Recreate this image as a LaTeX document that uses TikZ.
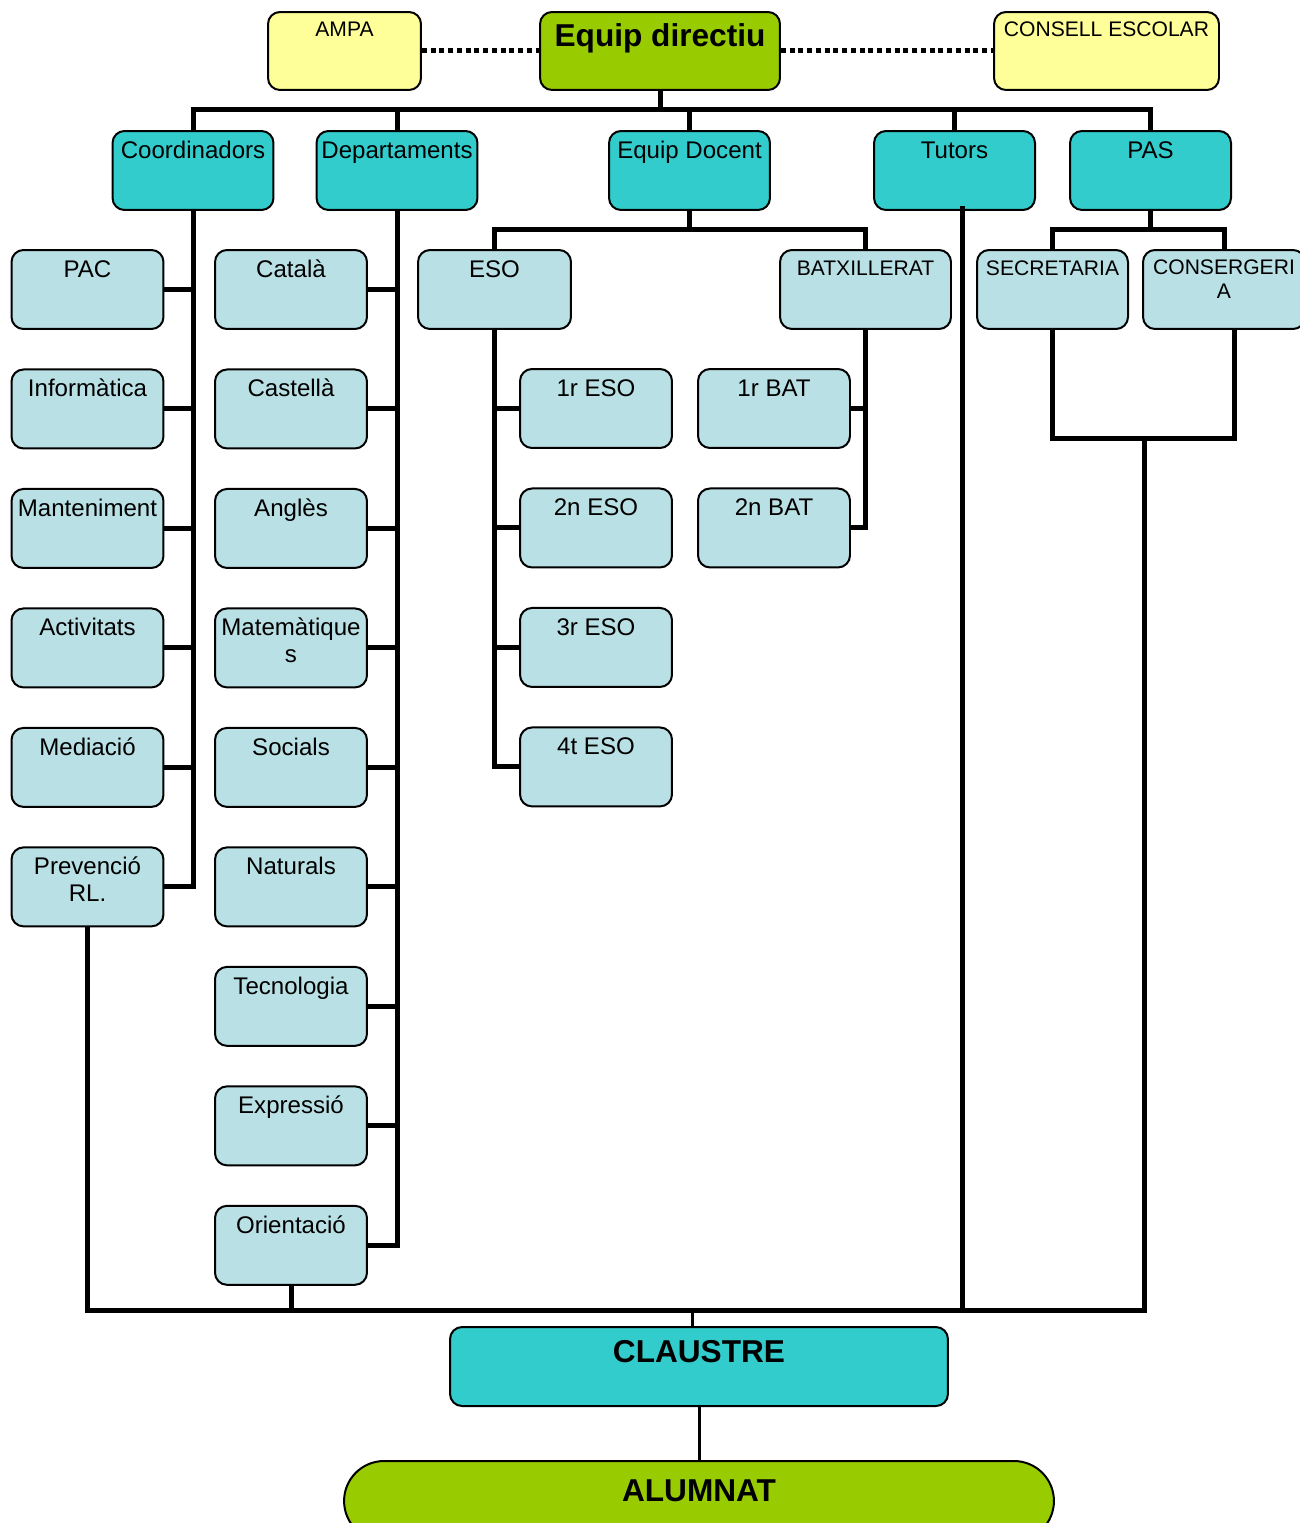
\documentclass[tikz,border=0pt]{standalone}
\usepackage{fontspec}
\setmainfont{Liberation Sans}
\usetikzlibrary{positioning}
\definecolor{groc}{HTML}{FFFF99}
\definecolor{verd}{HTML}{99CC00}
\definecolor{turq}{HTML}{33CCCC}
\definecolor{blaucel}{RGB}{185,224,228}
\newcommand\lletragran{\fontsize{18}{21}\selectfont\bfseries}
\newcommand\lletramitja{\fontsize{13.7}{15.5}\selectfont}
\newcommand\lletrapetita{\fontsize{12}{13.7}\selectfont}

\begin{document}
\begin{tikzpicture}[x=0.02cm, y=0.02cm, node distance=0.77cm,
	caixa/.style={draw, line width=0.04cm, rounded corners=0.24cm, inner xsep=0pt, inner ysep=0pt, align=center, text height=0.55cm, text depth=1.03cm, font=\lletramitja},
	ext/.style={caixa, fill=groc, minimum width=3.06cm, text height=0.49cm, text depth=1.07cm, font=\lletrapetita},
	principal/.style={caixa, fill=verd, font=\lletragran, text height=0.7cm, text depth=0.86cm},
	area/.style={caixa, fill=turq, minimum width=3.22cm},
	sub/.style={caixa, fill=blaucel, minimum width=3.04cm},
	subp/.style={sub, font=\lletrapetita, text height=0.5cm, text depth=1.08cm},
	duesl/.style={text height=1.09cm, text depth=0.49cm},
	lin/.style={line width=0.1cm, line join=miter},
	fina/.style={line width=0.06cm},
	punts/.style={line width=0.1cm, dash pattern=on 0.1cm off 0.075cm}]
		\useasboundingbox (0,0) rectangle (1300,-1523);
		% direccio i organs externs
		\node[ext]	(ampa)	at (344.5,-51)	{AMPA};
		\node[principal, minimum width=4.8cm]	(dir)	at (660,-51)	{Equip directiu};
		\node[ext, minimum width=4.5cm]	(consell)	at (1106.5,-51)	{CONSELL ESCOLAR};
		% segon nivell
		\node[area]	(coord)	at (193,-170.5)	{Coordinadors};
		\node[area]	(dept)	at (397,-170.5)	{Departaments};
		\node[area]	(docent)	at (689.5,-170.5)	{Equip Docent};
		\node[area]	(tutors)	at (954.5,-170.5)	{Tutors};
		\node[area]	(pas)	at (1150.5,-170.5)	{PAS};
		% coordinadors
		\node[sub]	(pac)	at (87.5,-289.5)	{PAC};
		\node[sub]	(info)	[below=of pac]	{Informàtica};
		\node[sub]	(mant)	[below=of info]	{Manteniment};
		\node[sub]	(activ)	[below=of mant]	{Activitats};
		\node[sub]	(media)	[below=of activ]	{Mediació};
		\node[sub, duesl]	(prev)	[below=of media]	{Prevenció\\RL.};
		% departaments
		\node[sub]	(cat)	at (291,-289.5)	{Català};
		\node[sub]	(cast)	[below=of cat]	{Castellà};
		\node[sub]	(angl)	[below=of cast]	{Anglès};
		\node[sub, duesl]	(mates)	[below=of angl]	{Matemàtique\\s};
		\node[sub]	(soc)	[below=of mates]	{Socials};
		\node[sub]	(nat)	[below=of soc]	{Naturals};
		\node[sub]	(tecno)	[below=of nat]	{Tecnologia};
		\node[sub]	(expr)	[below=of tecno]	{Expressió};
		\node[sub]	(orient)	[below=of expr]	{Orientació};
		% equip docent
		\node[sub, minimum width=3.06cm]	(eso)	at (494.5,-289.5)	{ESO};
		\node[subp, minimum width=3.42cm]	(batx)	at (865.5,-289.5)	{BATXILLERAT};
		\node[sub]	(eso1)	at (596,-408.5)	{1r ESO};
		\node[sub]	(eso2)	[below=of eso1]	{2n ESO};
		\node[sub]	(eso3)	[below=of eso2]	{3r ESO};
		\node[sub]	(eso4)	[below=of eso3]	{4t ESO};
		\node[sub]	(bat1)	at (774,-408.5)	{1r BAT};
		\node[sub]	(bat2)	[below=of bat1]	{2n BAT};
		% pas
		\node[subp, minimum width=3.02cm]	(secr)	at (1052.5,-289.5)	{SECRETARIA};
		\node[subp, minimum width=3.24cm, text height=0.98cm, text depth=0.6cm]	(conserg)	at (1224,-289.5)	{CONSERGERI\\A};
		% claustre i alumnat
		\node[principal, fill=turq, minimum width=9.96cm, text depth=0.88cm]	(claustre)	at (699,-1366.5)	{CLAUSTRE};
		\node[principal, minimum width=14.2cm, rounded corners=0.8cm, text height=0.8cm, text depth=0.8cm]	(alumnat)	at (699,-1501)	{ALUMNAT};
		% punts d'unio
		\coordinate (bus1) at (660,-110);
		\coordinate (bus2) at (689.5,-230);
		\coordinate (bus3) at (1150.5,-230);
		\coordinate (pasr) at (1234,-438);
		\coordinate (pasm) at (1144,-438);
		\coordinate (bus4) at (692,-1310);
		\coordinate (tut) at ([xshift=0.15cm, yshift=0.1cm]tutors.south);
		\draw[punts] (ampa) -- (dir);
		\draw[punts] (dir) -- (consell);
		\draw[lin] (dir) -- (bus1);
		\foreach \n in {coord,dept,docent,tutors,pas}
			\draw[lin] (\n.north) |- (bus1);
		\draw[lin] (coord.south) |- (prev.east);
		\foreach \n in {pac,info,mant,activ,media}
			\draw[lin] (\n.east) -- (\n.east -| coord.south);
		\draw[lin] (dept.south) |- (orient.east);
		\foreach \n in {cat,cast,angl,mates,soc,nat,tecno,expr}
			\draw[lin] (\n.east) -- (\n.east -| dept.south);
		\draw[lin] (docent) -- (bus2);
		\draw[lin] (eso.north) |- (bus2);
		\draw[lin] (batx.north) |- (bus2);
		\draw[lin] (eso.south) |- (eso4.west);
		\foreach \n in {eso1,eso2,eso3}
			\draw[lin] (\n.west) -- (\n.west -| eso.south);
		\draw[lin] (batx.south) |- (bat2.east);
		\draw[lin] (bat1.east) -- (bat1.east -| batx.south);
		\draw[lin] (pas) -- (bus3);
		\draw[lin] (secr.north) |- (bus3);
		\draw[lin] (conserg.north) |- (bus3);
		\draw[lin] (secr.south) |- (pasr) -- (pasr |- conserg.south);
		\draw[lin] (pasm) |- (bus4);
		\draw[lin] (tut) -- (tut |- bus4);
		\draw[lin] (prev.south) |- (bus4);
		\draw[lin] (orient.south) |- (bus4);
		\draw[fina] (bus4) -- (bus4 |- claustre.north);
		\draw[fina] (claustre) -- (alumnat);
\end{tikzpicture}
\end{document}
